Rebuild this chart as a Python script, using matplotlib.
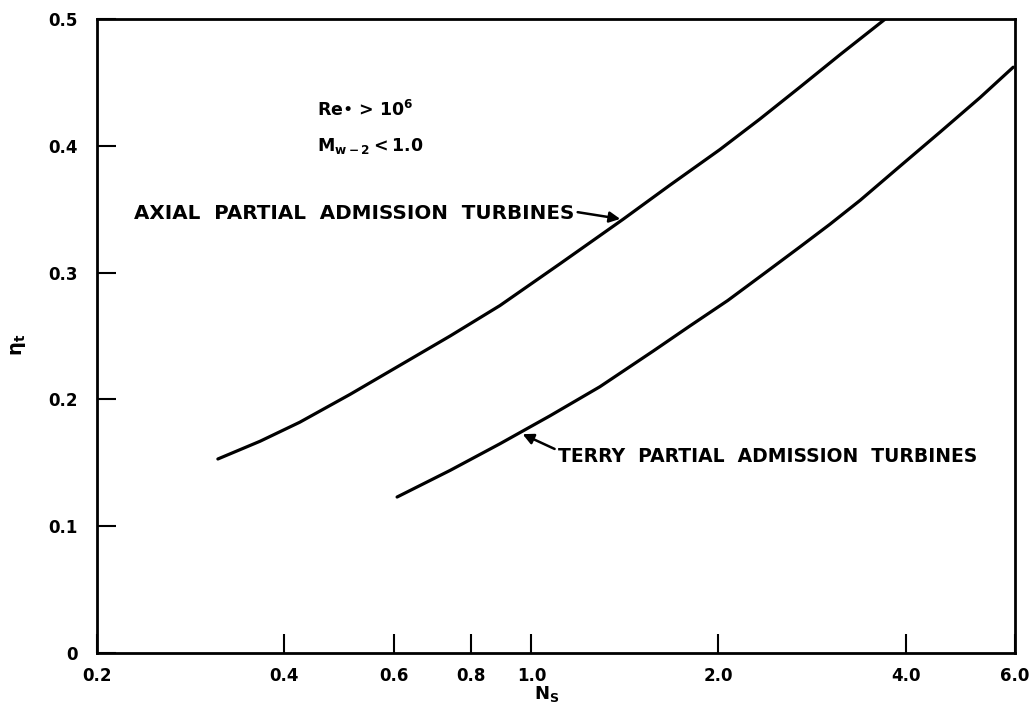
import numpy as np
import matplotlib
matplotlib.use("Agg")
import matplotlib.pyplot as plt

# values
axial_ns = [0.313, 0.366, 0.424, 0.511, 0.615, 0.740, 0.890, 1.112, 1.404,
            1.671, 2.01, 2.33, 2.70, 3.14, 3.71]
axial_eta = [0.153, 0.167, 0.182, 0.204, 0.227, 0.250, 0.274, 0.307, 0.342,
             0.369, 0.397, 0.421, 0.446, 0.472, 0.500]

terry_ns = [0.608, 0.740, 0.890, 1.071, 1.289, 1.569, 1.800, 2.07, 2.38,
            2.70, 3.02, 3.38, 3.92, 4.55, 5.27, 5.96]
terry_eta = [0.123, 0.144, 0.165, 0.187, 0.210, 0.238, 0.258, 0.278, 0.300,
             0.320, 0.338, 0.357, 0.384, 0.411, 0.438, 0.462]

x_ticks = [0.2, 0.4, 0.6, 0.8, 1.0, 2.0, 4.0, 6.0]
x_labels = ["0.2", "0.4", "0.6", "0.8", "1.0", "2.0", "4.0", "6.0"]
y_ticks = [0, 0.1, 0.2, 0.3, 0.4, 0.5]
y_labels = ["0", "0.1", "0.2", "0.3", "0.4", "0.5"]

plt.rcParams['font.family'] = ['DejaVu Sans']
plt.rcParams['font.weight'] = 'bold'
plt.rcParams['mathtext.default'] = 'bf'

fig = plt.figure(figsize=(10.35, 7.12), dpi=100)
ax = fig.add_axes([0.0937, 0.0829, 0.8870, 0.8904])

ax.plot(axial_ns, axial_eta, color='black', lw=2.3, solid_capstyle='round')
ax.plot(terry_ns, terry_eta, color='black', lw=2.3, solid_capstyle='round')

ax.set_xscale('log')
ax.set_xlim(0.2, 6.0)
ax.set_ylim(0, 0.5)
ax.xaxis.set_minor_locator(matplotlib.ticker.NullLocator())
ax.set_xticks(x_ticks)
ax.set_xticklabels(x_labels)
ax.set_yticks(y_ticks)
ax.set_yticklabels(y_labels)
ax.tick_params(axis='both', direction='in', length=14, width=1.5, labelsize=12)
ax.tick_params(axis='x', pad=10)
ax.tick_params(axis='y', pad=14)
for s in ax.spines.values():
    s.set_linewidth(2)

ax.text(0.49, -0.065, r'$N_S$', transform=ax.transAxes, ha='center', va='center', fontsize=13)
fig.text(0.018, 0.515, r'$\eta_t$', rotation=90, ha='center', va='center', fontsize=14)

ax.text(0.452, 0.428, "Re\u2022 > 10$^{6}$", ha='left', va='center', fontsize=12.5)
ax.text(0.452, 0.400, r'$M_{w-2} < 1.0$', ha='left', va='center', fontsize=12.5)

ax.text(0.229, 0.347, "AXIAL  PARTIAL  ADMISSION  TURBINES", ha='left', va='center', fontsize=14.3)
ax.annotate('', xy=(1.404, 0.342), xytext=(1.175, 0.348),
            arrowprops=dict(arrowstyle='-|>', color='black', lw=1.8, mutation_scale=16))

ax.text(1.104, 0.155, "TERRY  PARTIAL  ADMISSION  TURBINES", ha='left', va='center', fontsize=13.5)
ax.annotate('', xy=(0.959, 0.1735), xytext=(1.10, 0.160),
            arrowprops=dict(arrowstyle='-|>', color='black', lw=1.8, mutation_scale=16))

fig.savefig('out.png', dpi=100)
